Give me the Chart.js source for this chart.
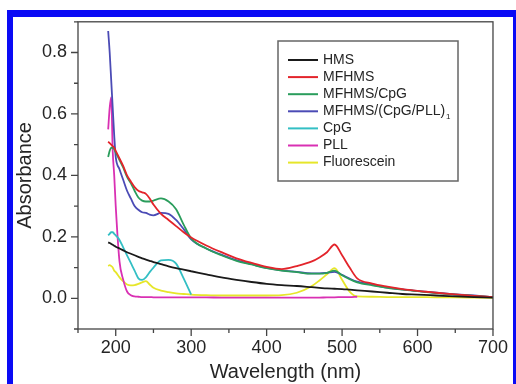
<!DOCTYPE html>
<html>
<head>
  <title>Absorbance spectra</title>
  <script src="https://cdn.jsdelivr.net/npm/chart.js"></script>
  <style>
    body {
      margin: 0;
      background: #fff;
    }
    #chart {
      position: absolute;
      left: 0;
      top: 0;
    }
    .frame {
      position: absolute;
      left: 7px;
      top: 10px;
      width: 509px;
      height: 374px;
      box-sizing: border-box;
      border-left: 6px solid #0a0af5;
      border-top: 7px solid #0a0af5;
      border-right: 3px solid #0a0af5;
      pointer-events: none;
    }
  </style>
</head>
<body>
  <canvas id="chart" width="516" height="384"></canvas>
  <div class="frame"></div>

  <script>
    // wavelength grid (nm)
    const wl = [190, 192, 194, 196, 198, 200, 205, 210, 215, 220, 225, 230, 235, 240, 245, 250,
                260, 270, 280, 290, 300, 320, 340, 360, 380, 400, 420, 440, 460, 470, 480, 490,
                500, 510, 520, 540, 560, 580, 600, 625, 650, 675, 700];

    const hms = [0.182, 0.180, 0.177, 0.174, 0.171, 0.168, 0.162, 0.156, 0.150, 0.145, 0.140, 0.135, 0.130, 0.126, 0.122, 0.118,
                 0.111, 0.104, 0.098, 0.093, 0.088, 0.078, 0.068, 0.060, 0.053, 0.047, 0.043, 0.040, 0.036, 0.034, 0.032, 0.031,
                 0.030, 0.028, 0.026, 0.022, 0.018, 0.014, 0.012, 0.009, 0.006, 0.004, 0.002];

    const mfhms = [0.510, 0.505, 0.500, 0.495, 0.490, 0.480, 0.455, 0.430, 0.400, 0.380, 0.362, 0.350, 0.345, 0.340, 0.325, 0.305,
                   0.275, 0.255, 0.235, 0.215, 0.198, 0.172, 0.150, 0.130, 0.115, 0.102, 0.095, 0.105, 0.120, 0.133, 0.150, 0.175,
                   0.140, 0.100, 0.065, 0.048, 0.038, 0.030, 0.024, 0.018, 0.013, 0.008, 0.004];

    const mfhmsCpg = [0.460, 0.480, 0.490, 0.490, 0.485, 0.475, 0.450, 0.425, 0.395, 0.375, 0.350, 0.328, 0.318, 0.315, 0.315, 0.318,
                      0.325, 0.315, 0.290, 0.240, 0.195, 0.162, 0.140, 0.122, 0.110, 0.098, 0.090, 0.085, 0.080, 0.080, 0.083, 0.090,
                      0.075, 0.062, 0.052, 0.042, 0.034, 0.028, 0.023, 0.017, 0.012, 0.008, 0.004];

    const mfhmsLayer = [0.870, 0.800, 0.710, 0.620, 0.530, 0.460, 0.420, 0.385, 0.350, 0.325, 0.300, 0.288, 0.280, 0.278, 0.272, 0.270,
                        0.278, 0.275, 0.255, 0.225, 0.192, 0.162, 0.142, 0.124, 0.111, 0.099, 0.091, 0.086, 0.081, 0.081, 0.083, 0.086,
                        0.076, 0.064, 0.054, 0.044, 0.035, 0.029, 0.024, 0.018, 0.013, 0.009, 0.004];

    const cpg = [0.205, 0.210, 0.215, 0.215, 0.210, 0.205, 0.190, 0.165, 0.140, 0.115, 0.090, 0.065, 0.060, 0.068, 0.085, 0.100,
                 0.123, 0.125, 0.113, 0.065, 0.012, null, null, null, null, null, null, null, null, null, null, null,
                 null, null, null, null, null, null, null, null, null, null, null];

    const pll = [0.550, 0.620, 0.655, 0.480, 0.400, 0.300, 0.120, 0.060, 0.022, 0.010, 0.006, 0.005, 0.004, 0.004, 0.004, 0.003,
                 0.003, 0.003, 0.003, 0.003, 0.003, 0.003, 0.002, 0.002, 0.002, 0.002, 0.002, 0.002, 0.002, 0.002, 0.003, 0.003,
                 0.004, 0.004, 0.005, null, null, null, null, null, null, null, null];

    const fluorescein = [0.105, 0.108, 0.105, 0.100, 0.090, 0.085, 0.068, 0.055, 0.045, 0.042, 0.043, 0.047, 0.052, 0.056, 0.045, 0.034,
                         0.025, 0.020, 0.016, 0.014, 0.012, 0.010, 0.009, 0.009, 0.009, 0.009, 0.010, 0.018, 0.040, 0.058, 0.078, 0.098,
                         0.060, 0.022, 0.006, 0.005, 0.004, 0.004, 0.004, 0.003, 0.003, 0.002, 0.001];

    const names = ['HMS', 'MFHMS', 'MFHMS/CpG', 'MFHMS/(CpG/PLL)', 'CpG', 'PLL', 'Fluorescein'];
    const subs = ['', '', '', '1', '', '', ''];
    const colors = ['#1a1a1a', '#e3242b', '#2a9d5c', '#4b4bb5', '#33bfc4', '#d930b3', '#e6e62a'];
    const series = [hms, mfhms, mfhmsCpg, mfhmsLayer, cpg, pll, fluorescein];

    const xTicks = [200, 300, 400, 500, 600, 700];
    const yTicks = [0.0, 0.2, 0.4, 0.6, 0.8];

    const FONT = "'Liberation Sans', Arial, sans-serif";
    const INK = '#252525';

    // outward ticks (long major, short minor) and the closed plot box
    const boxAndTicks = {
      id: 'boxAndTicks',
      afterDatasetsDraw(chart) {
        const {ctx, chartArea: a, scales: {x, y}} = chart;
        ctx.save();
        ctx.strokeStyle = '#444';
        ctx.lineWidth = 1.3;
        ctx.strokeRect(a.left, a.top, a.right - a.left, a.bottom - a.top);
        ctx.beginPath();
        x.ticks.forEach(t => {
          const px = x.getPixelForValue(t.value);
          const len = xTicks.includes(t.value) ? 7 : 4;
          ctx.moveTo(px, a.bottom);
          ctx.lineTo(px, a.bottom + len);
        });
        y.ticks.forEach(t => {
          const py = y.getPixelForValue(t.value);
          const k = Math.round(t.value * 10);
          const len = (k >= 0 && k % 2 === 0) ? 7 : 4;
          ctx.moveTo(a.left, py);
          ctx.lineTo(a.left - len, py);
        });
        ctx.stroke();
        ctx.restore();
      }
    };

    // boxed legend inside the plot
    const legendBox = {
      id: 'legendBox',
      afterDraw(chart) {
        const ctx = chart.ctx;
        ctx.save();
        ctx.strokeStyle = '#666';
        ctx.lineWidth = 1.5;
        ctx.strokeRect(278, 41, 180, 140);
        ctx.textBaseline = 'middle';
        chart.data.datasets.forEach((ds, i) => {
          const yy = 60 + i * 17.1;
          ctx.strokeStyle = ds.borderColor;
          ctx.lineWidth = 2;
          ctx.beginPath();
          ctx.moveTo(288, yy);
          ctx.lineTo(318, yy);
          ctx.stroke();
          ctx.fillStyle = INK;
          ctx.font = '14px ' + FONT;
          ctx.fillText(ds.label, 323, yy);
          if (subs[i]) {
            const w = ctx.measureText(ds.label).width;
            ctx.font = '8px ' + FONT;
            ctx.fillText(subs[i], 323 + w + 1, yy + 5);
          }
        });
        ctx.restore();
      }
    };

    new Chart(document.getElementById('chart'), {
      type: 'line',
      data: {
        datasets: names.map((n, i) => ({
          label: n,
          data: wl.map((w, j) => ({x: w, y: series[i][j]})),
          borderColor: colors[i],
          borderWidth: 1.8,
          pointRadius: 0,
          cubicInterpolationMode: 'monotone',
          spanGaps: false,
          fill: false
        }))
      },
      options: {
        responsive: false,
        animation: false,
        layout: {padding: {left: 0, top: 20, right: 16, bottom: 0}},
        plugins: {legend: {display: false}, tooltip: {enabled: false}},
        scales: {
          x: {
            type: 'linear',
            min: 150,
            max: 700,
            afterFit: s => { s.height = 55; },
            grid: {display: false, drawTicks: false},
            border: {display: false},
            ticks: {
              stepSize: 50,
              autoSkip: false,
              maxRotation: 0,
              padding: 8,
              color: INK,
              font: {family: FONT, size: 18},
              callback: v => xTicks.includes(v) ? String(v) : ''
            },
            title: {
              display: true,
              text: 'Wavelength (nm)',
              color: INK,
              font: {family: FONT, size: 20},
              padding: {top: 0, bottom: 0}
            }
          },
          y: {
            min: -0.1,
            max: 0.9,
            afterFit: s => { s.width = 78; },
            grid: {display: false, drawTicks: false},
            border: {display: false},
            ticks: {
              stepSize: 0.1,
              autoSkip: false,
              padding: 11,
              color: INK,
              font: {family: FONT, size: 18},
              callback: v => {
                const k = Math.round(v * 10);
                return (k >= 0 && k % 2 === 0) ? (k / 10).toFixed(1) : '';
              }
            },
            title: {
              display: true,
              text: 'Absorbance',
              color: INK,
              font: {family: FONT, size: 20},
              padding: {top: 13, bottom: 0}
            }
          }
        }
      },
      plugins: [boxAndTicks, legendBox]
    });
  </script>
</body>
</html>
